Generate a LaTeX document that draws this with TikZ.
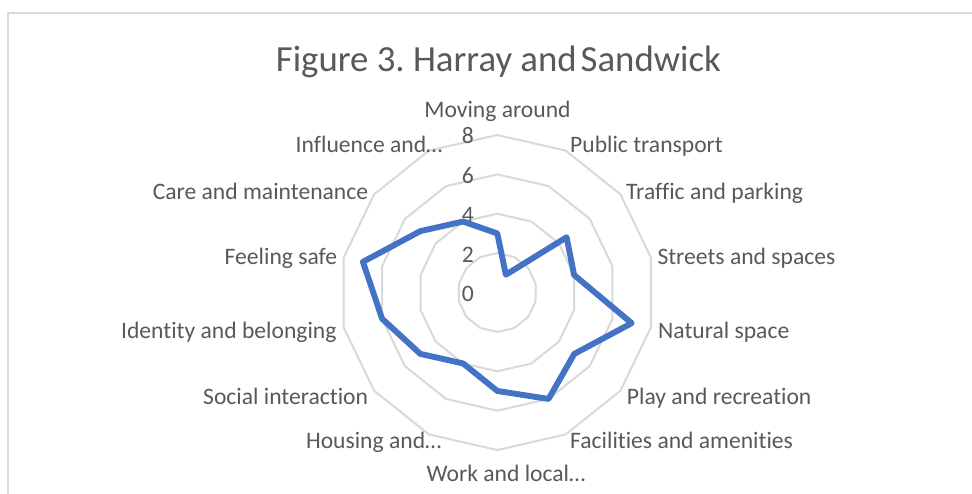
\documentclass[tikz,border=0pt]{standalone}
\usepackage{fontspec}
\setmainfont{Carlito}[Ligatures=NoCommon]
\usetikzlibrary{calc}
\definecolor{txtgray}{HTML}{595959}
\definecolor{ringgray}{HTML}{D9D9D9}
\definecolor{seriesblue}{HTML}{4472C4}
\tikzset{
  catlabel/.style={inner sep=0pt, text=txtgray, font=\fontsize{23.6}{28}\selectfont},
  ticklabel/.style={inner sep=0pt, text=txtgray, font=\fontsize{23.6}{28}\selectfont, anchor=base east},
  ring/.style={draw=ringgray, line width=2pt, line join=round},
  series/.style={draw=seriesblue, line width=5.9pt, line join=round},
  chartframe/.style={draw=ringgray, line width=2pt}
}
\frenchspacing
\begin{document}
\begin{tikzpicture}[x=1pt,y=-1pt]
\useasboundingbox (0,0) rectangle (972,494);
\clip (0,0) rectangle (972,494);
\fill[white] (0,0) rectangle (972,494);
\draw[chartframe] (7.5,13.3) rectangle (1000,520);
\def\cx{497.3}
\def\cy{292.5}
\def\u{19.69}
% rings
\foreach \k in {2,4,6,8}{
  \draw[ring] \foreach \i in {0,...,13}{ \ifnum\i=0 ({\cx+\k*\u*sin(\i*360/14)},{\cy-\k*\u*cos(\i*360/14)}) \else -- ({\cx+\k*\u*sin(\i*360/14)},{\cy-\k*\u*cos(\i*360/14)}) \fi } -- cycle;
}
% tick labels
\foreach \v in {0,2,4,6,8}{
  \node[ticklabel] (tick\v) at (474,{\cy-\v*\u+9}) {\v};
}
% data coordinates
\foreach \val [count=\i from 0] in {3,1,4.5,4,7,5,6,5,4,5,6,7,5,4}{
  \coordinate (p\i) at ({\cx+\val*\u*sin(\i*360/14)},{\cy-\val*\u*cos(\i*360/14)});
}
\draw[series] (p0)--(p1)--(p2)--(p3)--(p4)--(p5)--(p6)--(p7)--(p8)--(p9)--(p10)--(p11)--(p12)--(p13)--cycle;
% category labels
\node[catlabel, anchor=base] (c1) at (497.5,117.5) {Moving around};
\node[catlabel, anchor=base west] (c2) at (570,152.3) {Public transport};
\node[catlabel, anchor=base west] (c3) at (626,200) {Traffic and parking};
\node[catlabel, anchor=base west] (c4) at (657.3,265) {Streets and spaces};
\node[catlabel, anchor=base west] (c5) at (658,338) {Natural space};
\node[catlabel, anchor=base west] (c6) at (626.7,404) {Play and recreation};
\node[catlabel, anchor=base west] (c7) at (570,448) {Facilities and amenities};
\node[catlabel, anchor=base] (c8) at (506,481.5) {Work and local…};
\node[catlabel, anchor=base east] (c9) at (441.7,448) {Housing and…};
\node[catlabel, anchor=base east] (c10) at (368.3,404) {Social interaction};
\node[catlabel, anchor=base east] (c11) at (336.7,338) {Identity and belonging};
\node[catlabel, anchor=base east] (c12) at (337.3,265) {Feeling safe};
\node[catlabel, anchor=base east] (c13) at (368.3,200) {Care and maintenance};
\node[catlabel, anchor=base east] (c14) at (442.7,152.3) {Influence and…};
% title
\node[inner sep=0pt, text=txtgray, font=\fontsize{36.8}{44}\selectfont, anchor=base] (title) at (498.4,72) {Figure 3. Harray and\hspace{-0.12em} Sandwick};
\end{tikzpicture}
\end{document}
